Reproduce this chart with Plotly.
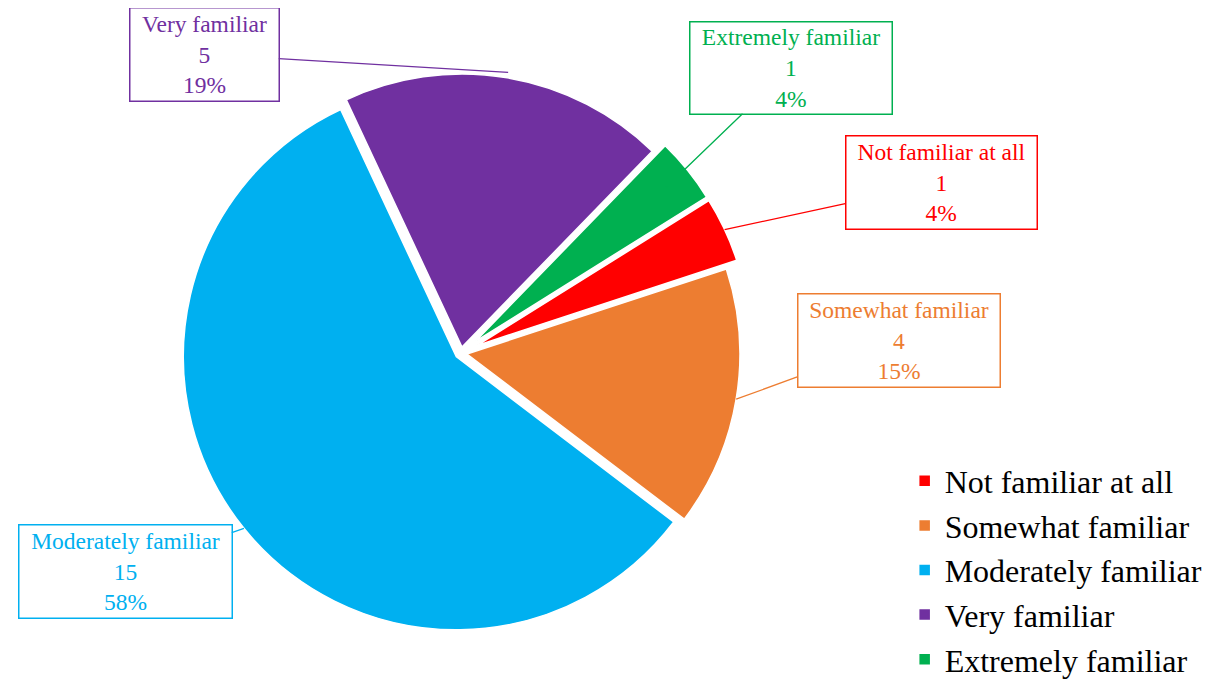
import math
import plotly.graph_objects as go

# ---- data ----
categories = ["Not familiar at all", "Somewhat familiar", "Moderately familiar",
              "Very familiar", "Extremely familiar"]
counts = [1, 4, 15, 5, 1]

# ---- style ----
colors = ["#FF0000", "#ED7D31", "#00B0F0", "#7030A0", "#00B050"]
pulls = [0.066, 0.022, 0.022, 0.022, 0.066]
W, H = 1230, 681
OFF = 8                    # page body margin
FONT = "Liberation Serif"
ROTATION = 58
CX, CY = 461 - OFF, 353 - OFF   # pie centre in figure pixels
R = 273                         # pie radius in pixels
# callout boxes: centre (screen px), width, height, radial factor of leader tip
boxes = [
    dict(cx=941, cy=183, w=190, h=92, k=1.0),
    dict(cx=898.5, cy=340, w=201, h=92, k=1.0),
    dict(cx=125, cy=571, w=212, h=92, k=1.0),
    dict(cx=204, cy=54, w=148, h=92, k=1.02),
    dict(cx=790.5, cy=67.5, w=201, h=91, k=0.9),
]

maxpull = max(pulls)
half = R * (1 + maxpull)
dom_x = [(CX - half) / W, (CX + half) / W]
dom_y = [1 - (CY + half) / H, 1 - (CY - half) / H]

fig = go.Figure(go.Pie(
    labels=categories, values=counts, sort=False, direction="clockwise",
    rotation=ROTATION, pull=pulls,
    marker=dict(colors=colors, line=dict(color="white", width=1.5)),
    textinfo="none", hoverinfo="label+value+percent",
    domain=dict(x=dom_x, y=dom_y),
))

total = sum(counts)
cum = 0
annotations = []
for cat, v, col, p, b in zip(categories, counts, colors, pulls, boxes):
    mid = math.radians(ROTATION + 360 * (cum + v / 2) / total)
    cum += v
    dist = p * R + R * b["k"]
    tx = CX + dist * math.sin(mid)
    ty = CY - dist * math.cos(mid)
    pct = round(100 * v / total)
    bx, by = b["cx"] - OFF, b["cy"] - OFF
    annotations.append(dict(
        x=tx / W, y=1 - ty / H, xref="paper", yref="paper",
        text=f"{cat}<br>{v}<br>{pct}%",
        showarrow=True, arrowhead=0, arrowwidth=1.3, arrowcolor=col,
        ax=bx - tx, ay=by - ty, standoff=0,
        width=b["w"], height=b["h"], borderpad=0,
        bordercolor=col, borderwidth=1.5, bgcolor="white",
        font=dict(family=FONT, size=23.5, color=col), align="center",
    ))

fig.update_layout(
    width=W, height=H,
    margin=dict(l=0, r=0, t=0, b=0),
    paper_bgcolor="white", plot_bgcolor="white",
    annotations=annotations,
    showlegend=True,
    legend=dict(x=0.729, xanchor="left", y=0.5 - (570 - OFF - H / 2) / H * 2 / 2, yanchor="middle",
                font=dict(family=FONT, size=32, color="black"),
                bgcolor="rgba(0,0,0,0)"),
)

fig.write_html("out.html")
